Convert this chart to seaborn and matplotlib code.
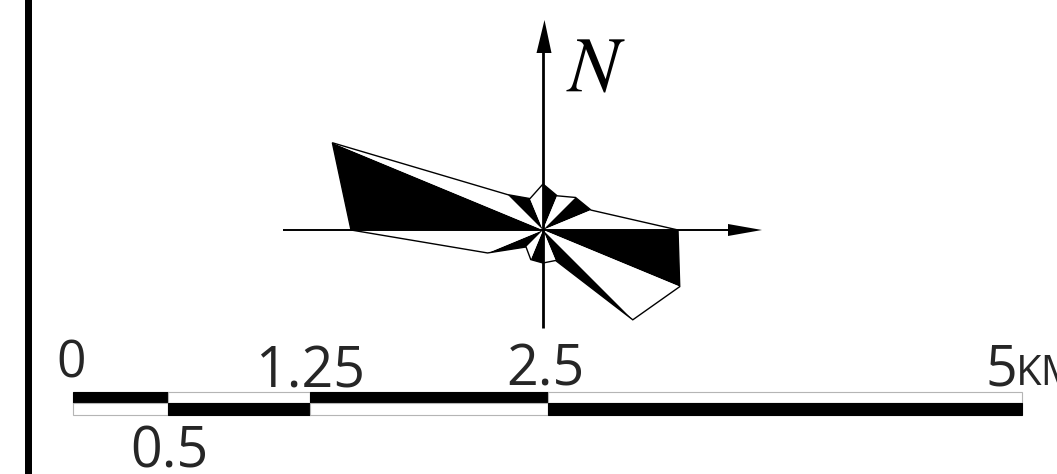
import numpy as np
import matplotlib
matplotlib.use("Agg")
import matplotlib.pyplot as plt
from matplotlib.patches import Rectangle
import seaborn as sns

# ---------------- data ----------------
directions = ["N", "NNE", "NE", "ENE", "E", "ESE", "SE", "SSE",
              "S", "SSW", "SW", "WSW", "W", "WNW", "NW", "NNW"]
petal_lengths = [46, 37, 46, 52, 135, 148, 127, 33,
                 33, 32, 24, 60, 192, 228, 50, 34]
scale_km = [0, 0.5, 1.25, 2.5, 5]
scale_labels = ["0", "0.5", "1.25", "2.5", "5"]
scale_unit = "KM"
north_label = "N"

# ---------------- style ----------------
sns.set_theme(style="white")
plt.rcParams["font.family"] = ["Open Sans", "DejaVu Sans"]

W, H = 1057, 474
fig = plt.figure(figsize=(W / 100, H / 100), dpi=100)
ax = fig.add_axes([0, 0, 1, 1])
ax.set_xlim(0, W)
ax.set_ylim(H, 0)
ax.axis("off")

# left frame bar
ax.axvspan(25, 32, color="black", lw=0)

# ---------------- rose ----------------
cx, cy = 543, 230
n = len(directions)
theta = np.deg2rad(np.arange(n) * 360.0 / n)
r = np.asarray(petal_lengths, dtype=float)
px = cx + r * np.sin(theta)
py = cy - r * np.cos(theta)
for i in range(n):
    j = (i + 1) % n
    ax.fill([cx, px[i], px[j]], [cy, py[i], py[j]],
            color="black" if i % 2 == 0 else "white", lw=0, zorder=2)
ax.fill(px, py, facecolor="none", edgecolor="black", lw=1.0, zorder=3)

# axes cross with arrows
ax.plot([283, 729], [cy, cy], color="black", lw=1.4, zorder=4, solid_capstyle="butt")
ax.fill([728, 762, 728], [cy - 6, cy, cy + 6], color="black", lw=0, zorder=4)
ax.plot([cx, cx], [328, 52], color="black", lw=2.0, zorder=4, solid_capstyle="butt")
ax.fill([cx - 6.5, cx + 1.5, cx + 8.5], [53, 20, 53], color="black", lw=0, zorder=4)
ax.text(566, 91, "$" + north_label + "$", fontsize=56, math_fontfamily="stix",
        ha="left", va="baseline", color="black")

# ---------------- scale bar ----------------
x0, ppk = 73, 189.8
def kx(v):
    return x0 + v * ppk

y_top, y_mid, y_bot = 391.5, 403, 415
for k in range(len(scale_km) - 1):
    a, b = kx(scale_km[k]), kx(scale_km[k + 1])
    top_black = (k % 2 == 0)
    for (ya, yb, black) in [(y_top, y_mid, top_black), (y_mid, y_bot, not top_black)]:
        ax.add_patch(Rectangle((a, ya), b - a, yb - ya,
                               facecolor="black" if black else "white",
                               edgecolor="black" if black else "#b5b5b5",
                               lw=0.8, zorder=3))

# labels
ax.text(kx(scale_km[0]) - 2, 378, scale_labels[0], fontsize=37, ha="center", va="baseline")
ax.text(kx(scale_km[1]) + 1, 467, scale_labels[1], fontsize=40, ha="center", va="baseline")
ax.text(kx(scale_km[2]), 387, scale_labels[2], fontsize=40, ha="center", va="baseline")
ax.text(kx(scale_km[3]) - 2, 385, scale_labels[3], fontsize=40, ha="center", va="baseline")
ax.text(kx(scale_km[4]) - 5, 385, scale_labels[4], fontsize=40, ha="right", va="baseline")
ax.text(kx(scale_km[4]) - 6, 385, scale_unit, fontsize=30, ha="left", va="baseline")

fig.savefig("out.png", dpi=100)
